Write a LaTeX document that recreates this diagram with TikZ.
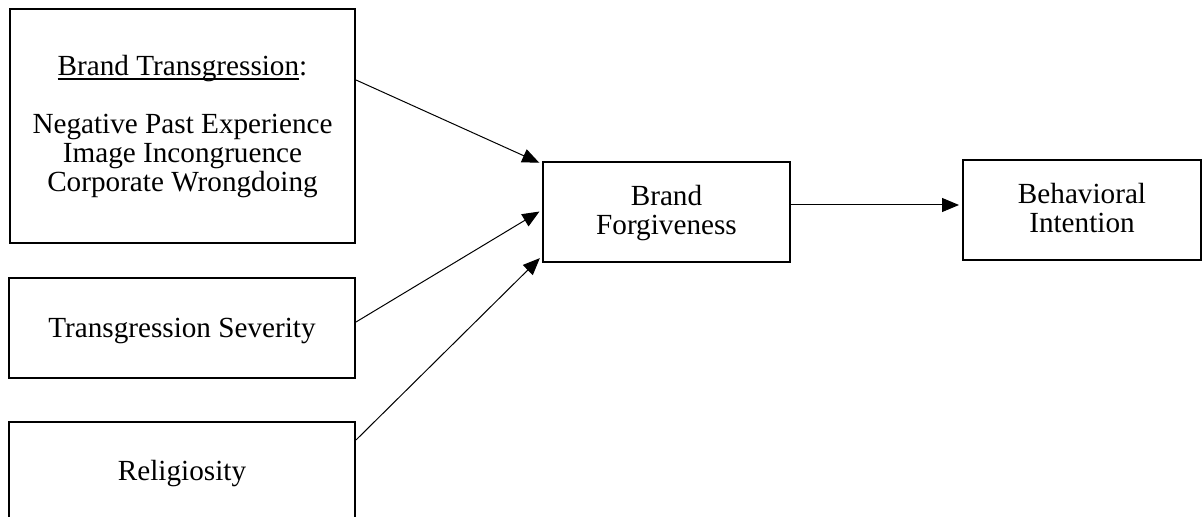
\documentclass[tikz,border=0pt]{standalone}
\usepackage{fontspec}
\setmainfont{Liberation Serif}
\usetikzlibrary{arrows.meta,calc}
\newcommand\myul[1]{\setbox0\hbox{#1}\rlap{\rule[-2pt]{\wd0}{0.7pt}}\box0}
% #1 raise, #2 number of line steps below the first baseline, #3 rows separated by \cr
\newcommand\tx[3][0pt]{\raisebox{#1}[0.662em][\dimexpr14.5pt*#2\relax]{\vtop{\baselineskip=14.5pt\lineskiplimit=-\maxdimen\halign{\hfil##\hfil\cr#3\crcr}}}}
\begin{document}
\begin{tikzpicture}[x=0.5pt,y=-0.5pt,
  box/.style={draw,line width=1pt,inner sep=0pt,font=\fontsize{14.6}{14.5}\selectfont},
  arr/.style={line width=0.5pt,-{Triangle[length=8.5pt,width=7pt]},shorten >=1.5pt}]
\clip (0,0) rectangle (1203,517);
\node[box,minimum width=172.5pt,minimum height=117pt] (bt) at (182.5,126)
  {\tx[1pt]{4}{\myul{Brand Transgression}:\cr\cr Negative Past Experience\cr Image Incongruence\cr Corporate Wrongdoing}};
\node[box,minimum width=173pt,minimum height=50pt] (ts) at (182,328) {\tx{0}{Transgression Severity}};
\node[box,minimum width=173pt,minimum height=49pt] (rel) at (182,471) {\tx{0}{Religiosity}};
\node[box,minimum width=123.5pt,minimum height=50pt] (bf) at (666.5,212) {\tx[1pt]{1}{Brand\cr Forgiveness}};
\node[box,minimum width=119pt,minimum height=50pt] (bi) at (1082,210) {\tx[1pt]{1}{Behavioral\cr Intention}};
\draw[arr] ([yshift=23pt]bt.east) -- ([yshift=-1.5pt]bf.north west);
\draw[arr] ([yshift=3pt]ts.east) -- ([yshift=1pt]bf.west);
\draw[arr] ([yshift=15.5pt]rel.east) -- ([yshift=3.5pt]bf.south west);
\draw[arr] (bf.east) ++(0,-7) coordinate (s) -- (s -| bi.west);
\end{tikzpicture}
\end{document}
